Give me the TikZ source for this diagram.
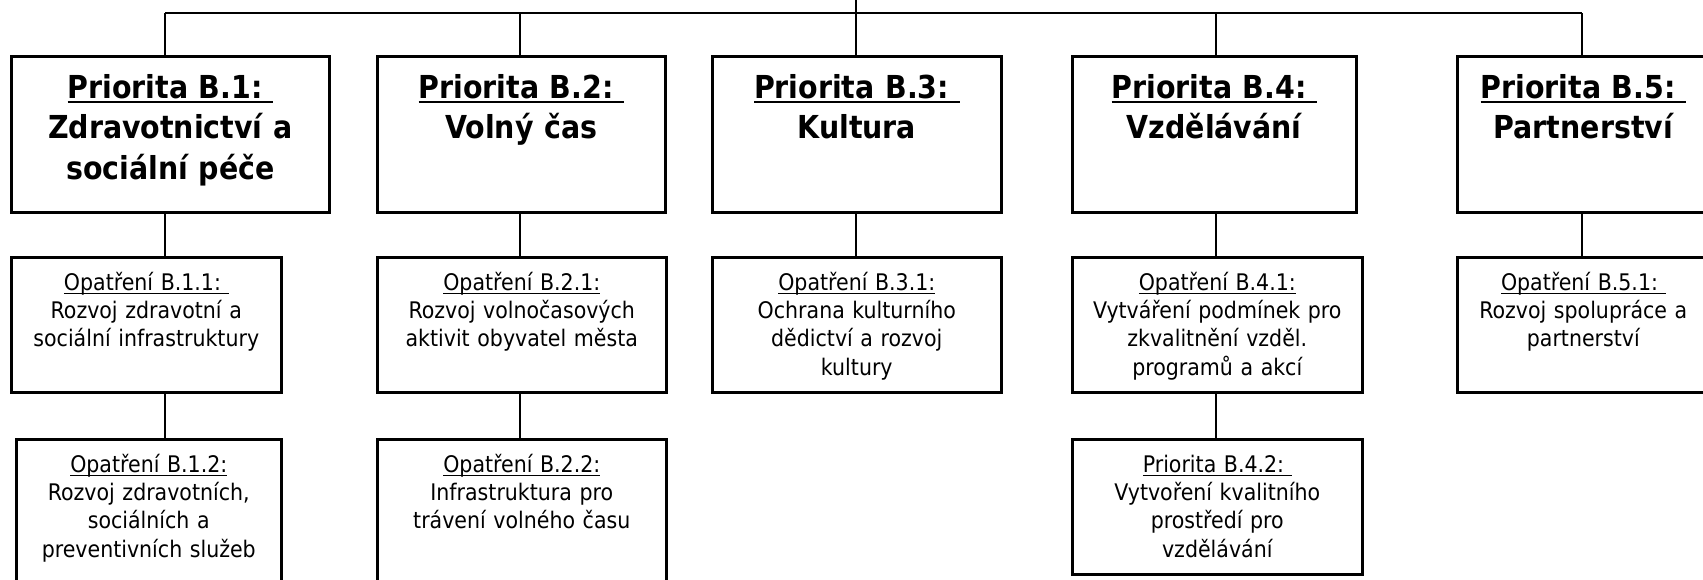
\documentclass[tikz,border=0pt]{standalone}
\usepackage{fontspec}
\setmainfont{DejaVu Sans Condensed}
\usetikzlibrary{positioning}

\newcommand{\ulth}{0.6pt}
\newcommand{\uln}[1]{\leavevmode\setbox0=\hbox{#1}\rlap{\rule[-0.16em]{\wd0}{\ulth}}\box0}
\newcommand{\hfnt}{\fontsize{18}{23}\selectfont\bfseries\renewcommand{\ulth}{1.1pt}}
\newcommand{\ofnt}{\fontsize{13}{16.1}\selectfont\renewcommand{\ulth}{0.6pt}}

\begin{document}
\begin{tikzpicture}[x=0.02cm,y=-0.02cm]
  \tikzset{ prio/.style={draw,line width=1.5pt,anchor=north west,inner sep=0pt,
      align=center,font=\hfnt,text height=0.84cm,text depth=2.28cm},
    opat/.style={draw,line width=1.5pt,anchor=north west,inner sep=0pt,
      align=center,font=\ofnt,text height=0.66cm,text depth=2.04cm},
    link/.style={line width=1pt},
  }
  \useasboundingbox (0,0) rectangle (1703,579);
  \clip (0,0) rectangle (1703,579);
  % the priorities
  \node[prio,text width=6.36cm] (p1) at (10,55) {\uln{Priorita B.1:\ }\\Zdravotnictví a\\sociální péče};
  \node[prio,text width=5.76cm] (p2) at (376,55) {\uln{Priorita B.2:\ }\\Volný čas};
  \node[prio,text width=5.78cm] (p3) at (711,55) {\uln{Priorita B.3:\ }\\Kultura};
  \node[prio,text width=5.68cm] (p4) at (1071,55) {\uln{Priorita B.4:\ }\\Vzdělávání};
  \node[prio,text width=5.04cm] (p5) at (1456,55) {\uln{Priorita B.5:\ }\\Partnerství};

  % the measures
  \node[opat,text width=5.40cm] (o11) at (10,256) {\uln{Opatření B.1.1:\ }\\Rozvoj zdravotní a\\sociální infrastruktury};
  \node[opat,text width=5.78cm] (o21) at (376,256) {\uln{Opatření B.2.1:}\\Rozvoj volnočasových\\aktivit obyvatel města};
  \node[opat,text width=5.78cm] (o31) at (711,256) {\uln{Opatření B.3.1:}\\Ochrana kulturního\\dědictví a rozvoj\\kultury};
  \node[opat,text width=5.80cm] (o41) at (1071,256) {\uln{Opatření B.4.1:}\\Vytváření podmínek pro\\zkvalitnění vzděl.\\programů a akcí};
  \node[opat,text width=5.04cm] (o51) at (1456,256) {\uln{Opatření B.5.1:\ }\\Rozvoj spolupráce a\\partnerství};

  \node[opat,text width=5.30cm,text depth=2.34cm] (o12) at (15,438) {\uln{Opatření B.1.2:}\\Rozvoj zdravotních,\\sociálních a\\preventivních služeb};
  \node[opat,text width=5.78cm,text depth=2.34cm] (o22) at (376,438) {\uln{Opatření B.2.2:}\\Infrastruktura pro\\trávení volného času};
  \node[opat,text width=5.80cm] (o42) at (1071,438) {\uln{Priorita B.4.2:\ }\\Vytvoření kvalitního\\prostředí pro\\vzdělávání};

  % the bus on top
  \coordinate (top) at (856,0);
  \coordinate (j1) at (165,13);
  \coordinate (j2) at (520,13);
  \coordinate (j3) at (856,13);
  \coordinate (j4) at (1216,13);
  \coordinate (j5) at (1582,13);
  \draw[link] (j1) -- (j5);
  \draw[link] (top) -- (j3 |- p3.north);
  \draw[link] (j1) -- (j1 |- p1.north);
  \draw[link] (j2) -- (j2 |- p2.north);
  \draw[link] (j4) -- (j4 |- p4.north);
  \draw[link] (j5) -- (j5 |- p5.north);

  % the connection between the boxes
  \draw[link] (j1 |- p1.south) -- (j1 |- o11.north);
  \draw[link] (j2 |- p2.south) -- (j2 |- o21.north);
  \draw[link] (j3 |- p3.south) -- (j3 |- o31.north);
  \draw[link] (j4 |- p4.south) -- (j4 |- o41.north);
  \draw[link] (j5 |- p5.south) -- (j5 |- o51.north);
  \draw[link] (j1 |- o11.south) -- (j1 |- o12.north);
  \draw[link] (j2 |- o21.south) -- (j2 |- o22.north);
  \draw[link] (j4 |- o41.south) -- (j4 |- o42.north);
\end{tikzpicture}
\end{document}
